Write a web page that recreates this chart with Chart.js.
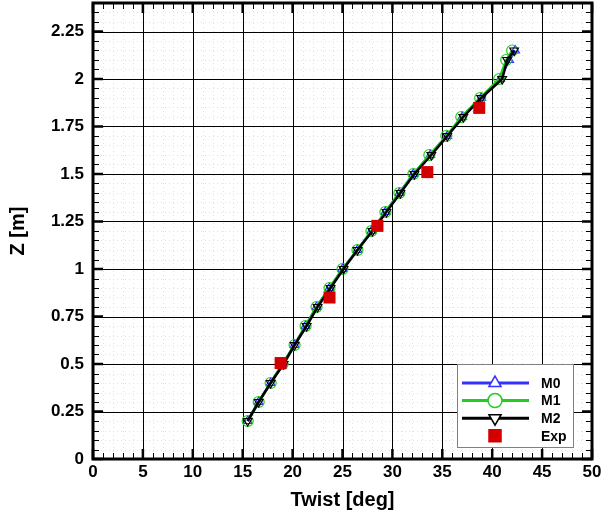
<!DOCTYPE html>
<html>
<head>
<meta charset="utf-8">
<script src="https://cdn.jsdelivr.net/npm/chart.js@4.4.1/dist/chart.umd.min.js"></script>
<style>
  html, body { margin: 0; padding: 0; background: #fff; }
  canvas { display: block; }
</style>
</head>
<body>
<canvas id="twist-graph" width="601" height="519"></canvas>
<script>
// heights along the blade (m)
const zValues = [0.2, 0.3, 0.4, 0.5, 0.6, 0.7, 0.8, 0.9, 1.0, 1.1, 1.2, 1.3, 1.4, 1.5, 1.6, 1.7, 1.8, 1.9, 2.0, 2.1, 2.15];
// twist (deg) for each model
const twistM0 = [15.5, 16.6, 17.8, 19.0, 20.2, 21.3, 22.4, 23.7, 25.0, 26.5, 27.9, 29.3, 30.7, 32.1, 33.8, 35.5, 37.0, 38.9, 40.8, 41.7, 42.3];
const twistM1 = [15.5, 16.6, 17.8, 19.0, 20.2, 21.3, 22.4, 23.7, 25.0, 26.5, 27.9, 29.3, 30.7, 32.1, 33.7, 35.4, 36.9, 38.8, 40.7, 41.4, 42.0];
const twistM2 = [15.5, 16.6, 17.8, 19.1, 20.2, 21.4, 22.5, 23.8, 25.1, 26.5, 28.0, 29.4, 30.8, 32.2, 33.9, 35.5, 37.1, 38.9, 41.0, 41.5, 42.2];
// experiment
const expTwist = [18.8, 23.7, 28.5, 33.5, 38.7];
const expZ = [0.505, 0.85, 1.227, 1.51, 1.848];

const xTicks = [0, 5, 10, 15, 20, 25, 30, 35, 40, 45, 50];
const yTicks = [0, 0.25, 0.5, 0.75, 1, 1.25, 1.5, 1.75, 2, 2.25];

const FONT = "'Liberation Sans', Arial, sans-serif";

function toPoints(xs, ys) {
    return xs.map((x, i) => ({ x: x, y: ys[i] }));
}

// grid (dotted minor + solid major), inward ticks, thick frame
const framePlugin = {
    id: 'frame',
    beforeDatasetsDraw(chart) {
        const { ctx, chartArea: a, scales: { x, y } } = chart;
        ctx.save();
        ctx.strokeStyle = '#e2e2e2';
        ctx.lineWidth = 1;
        ctx.setLineDash([1, 3]);
        for (let v = 1; v < 50; v++) {
            if (v % 5 === 0) continue;
            const px = Math.round(x.getPixelForValue(v)) + 0.5;
            ctx.beginPath(); ctx.moveTo(px, a.top); ctx.lineTo(px, a.bottom); ctx.stroke();
        }
        for (let i = 1; i < 48; i++) {
            if (i % 5 === 0) continue;
            const py = Math.round(y.getPixelForValue(i * 0.05)) + 0.5;
            ctx.beginPath(); ctx.moveTo(a.left, py); ctx.lineTo(a.right, py); ctx.stroke();
        }
        ctx.setLineDash([]);
        ctx.strokeStyle = '#000';
        xTicks.forEach(v => {
            const px = Math.round(x.getPixelForValue(v)) + 0.5;
            ctx.beginPath(); ctx.moveTo(px, a.top); ctx.lineTo(px, a.bottom); ctx.stroke();
        });
        yTicks.forEach(v => {
            const py = Math.round(y.getPixelForValue(v)) + 0.5;
            ctx.beginPath(); ctx.moveTo(a.left, py); ctx.lineTo(a.right, py); ctx.stroke();
        });
        ctx.restore();
    },
    afterDraw(chart) {
        const { ctx, chartArea: a, scales: { x, y } } = chart;
        ctx.save();
        ctx.strokeStyle = '#000';
        // minor ticks
        ctx.lineWidth = 1;
        for (let v = 1; v < 50; v++) {
            if (v % 5 === 0) continue;
            const px = Math.round(x.getPixelForValue(v)) + 0.5;
            ctx.beginPath();
            ctx.moveTo(px, a.bottom); ctx.lineTo(px, a.bottom - 6);
            ctx.moveTo(px, a.top); ctx.lineTo(px, a.top + 6);
            ctx.stroke();
        }
        for (let i = 1; i < 48; i++) {
            if (i % 5 === 0) continue;
            const py = Math.round(y.getPixelForValue(i * 0.05)) + 0.5;
            ctx.beginPath();
            ctx.moveTo(a.left, py); ctx.lineTo(a.left + 6, py);
            ctx.moveTo(a.right, py); ctx.lineTo(a.right - 6, py);
            ctx.stroke();
        }
        // major ticks
        ctx.lineWidth = 2.5;
        xTicks.forEach(v => {
            const px = x.getPixelForValue(v);
            ctx.beginPath();
            ctx.moveTo(px, a.bottom); ctx.lineTo(px, a.bottom - 10);
            ctx.moveTo(px, a.top); ctx.lineTo(px, a.top + 10);
            ctx.stroke();
        });
        yTicks.forEach(v => {
            const py = y.getPixelForValue(v);
            ctx.beginPath();
            ctx.moveTo(a.left, py); ctx.lineTo(a.left + 10, py);
            ctx.moveTo(a.right, py); ctx.lineTo(a.right - 10, py);
            ctx.stroke();
        });
        // frame
        ctx.lineWidth = 3;
        ctx.strokeRect(a.left, a.top, a.right - a.left, a.bottom - a.top);
        ctx.restore();
    }
};

// legend box, lower right
const legendPlugin = {
    id: 'boxLegend',
    afterDraw(chart) {
        const ctx = chart.ctx;
        const bx = 457, by = 364, bw = 116, bh = 83;
        ctx.save();
        ctx.fillStyle = '#fff';
        ctx.fillRect(bx, by, bw, bh);
        ctx.strokeStyle = '#808080';
        ctx.lineWidth = 1;
        ctx.strokeRect(bx + 0.5, by + 0.5, bw, bh);
        const rows = [
            { label: 'M0', color: '#3333ff', style: 'triangle', rot: 0, line: true },
            { label: 'M1', color: '#22cc22', style: 'circle', rot: 0, line: true },
            { label: 'M2', color: '#000000', style: 'triangle', rot: 180, line: true },
            { label: 'Exp', color: '#d40000', style: 'rect', rot: 0, line: false }
        ];
        ctx.font = 'bold 14px ' + FONT;
        ctx.textBaseline = 'middle';
        rows.forEach((r, i) => {
            const cy = 383 + i * 17.6;
            if (r.line) {
                ctx.strokeStyle = r.color;
                ctx.lineWidth = 3;
                ctx.beginPath(); ctx.moveTo(462, cy); ctx.lineTo(529, cy); ctx.stroke();
            }
            ctx.strokeStyle = r.color;
            ctx.fillStyle = r.line ? '#fff' : r.color;
            ctx.lineWidth = 1.5;
            Chart.helpers.drawPoint(ctx, {
                pointStyle: r.style, rotation: r.rot,
                radius: r.style === 'circle' ? 7 : (r.style === 'rect' ? 8.5 : 7),
                borderWidth: 1.5
            }, 495, cy);
            ctx.fillStyle = '#000';
            ctx.fillText(r.label, 541, cy + 1);
        });
        ctx.restore();
    }
};

const ctx = document.getElementById('twist-graph');
new Chart(ctx, {
    type: 'scatter',
    data: {
        datasets: [
            {
                label: 'M0',
                data: toPoints(twistM0, zValues),
                showLine: true,
                borderColor: '#3333ff',
                backgroundColor: 'rgba(0,0,0,0)',
                borderWidth: 2.5,
                pointStyle: 'triangle',
                pointRadius: 5,
                pointBorderWidth: 1.2,
                pointBorderColor: '#3333ff',
                order: 3
            },
            {
                label: 'M1',
                data: toPoints(twistM1, zValues),
                showLine: true,
                borderColor: '#22cc22',
                backgroundColor: 'rgba(0,0,0,0)',
                borderWidth: 2.5,
                pointStyle: 'circle',
                pointRadius: 5.5,
                pointBorderWidth: 1.2,
                pointBorderColor: '#22cc22',
                order: 2
            },
            {
                label: 'M2',
                data: toPoints(twistM2, zValues),
                showLine: true,
                borderColor: '#000000',
                backgroundColor: 'rgba(0,0,0,0)',
                borderWidth: 2.5,
                pointStyle: 'triangle',
                rotation: 180,
                pointRadius: 5,
                pointBorderWidth: 1.2,
                pointBorderColor: '#000000',
                order: 1
            },
            {
                label: 'Exp',
                data: toPoints(expTwist, expZ),
                showLine: false,
                pointStyle: 'rect',
                pointRadius: 8.5,
                pointBorderWidth: 0,
                backgroundColor: '#d40000',
                borderColor: '#d40000',
                order: 0
            }
        ]
    },
    options: {
        responsive: false,
        animation: false,
        layout: { autoPadding: false, padding: { top: 3, right: 9, left: 0, bottom: 0 } },
        plugins: { legend: { display: false }, tooltip: { enabled: false } },
        scales: {
            x: {
                type: 'linear',
                min: 0, max: 50,
                afterFit: s => { s.height = 60; s.paddingLeft = 0; s.paddingRight = 0; },
                afterBuildTicks: s => { s.ticks = xTicks.map(v => ({ value: v })); },
                ticks: { font: { family: FONT, size: 17, weight: 'bold' }, color: '#000', padding: 3, maxRotation: 0 },
                grid: { display: false, drawTicks: false },
                border: { display: false },
                title: { display: true, text: 'Twist [deg]', color: '#000', font: { family: FONT, size: 20, weight: 'bold' }, padding: { top: 0, bottom: 7 } }
            },
            y: {
                type: 'linear',
                min: 0, max: 2.4,
                afterFit: s => { s.width = 93; s.paddingTop = 0; s.paddingBottom = 0; },
                afterBuildTicks: s => { s.ticks = yTicks.map(v => ({ value: v })); },
                ticks: { font: { family: FONT, size: 17, weight: 'bold' }, color: '#000', padding: 9, callback: v => String(+v.toFixed(2)) },
                grid: { display: false, drawTicks: false },
                border: { display: false },
                title: { display: true, text: 'Z [m]', color: '#000', font: { family: FONT, size: 20, weight: 'bold' }, padding: { top: 6, bottom: 0 } }
            }
        }
    },
    plugins: [framePlugin, legendPlugin]
});
</script>
</body>
</html>
